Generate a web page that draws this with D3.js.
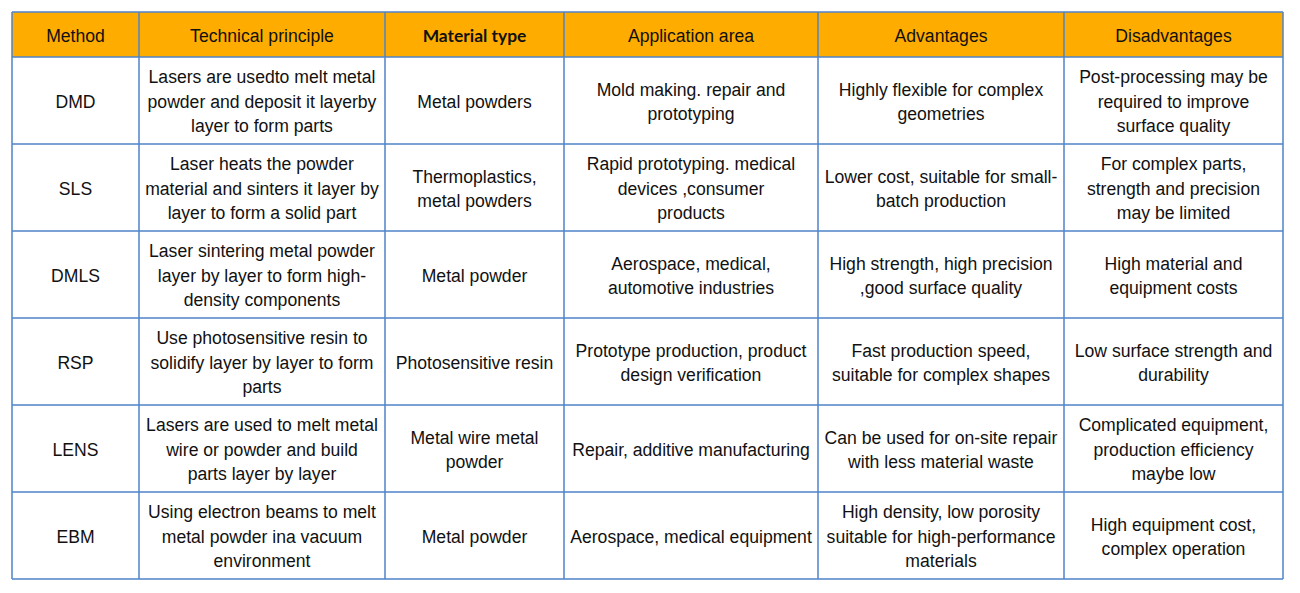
<!DOCTYPE html>
<meta charset="utf-8">
<style>
	body{margin:0;background:#fff;}
	svg{display:block;}
</style>
<svg width="1300" height="593"></svg>
<script src="https://cdn.jsdelivr.net/npm/d3@7"></script>
<script>
	var headers = ["Method","Technical principle","Material type","Application area","Advantages","Disadvantages"];
	var colWidths = [127, 246, 179, 254, 246, 219];

	var methods = ["DMD","SLS","DMLS","RSP","LENS","EBM"];
	var principles = [
		["Lasers are usedto melt metal","powder and deposit it layerby","layer to form parts"],
		["Laser heats the powder","material and sinters it layer by","layer to form a solid part"],
		["Laser sintering metal powder","layer by layer to form high-","density components"],
		["Use photosensitive resin to","solidify layer by layer to form","parts"],
		["Lasers are used to melt metal","wire or powder and build","parts layer by layer"],
		["Using electron beams to melt","metal powder ina vacuum","environment"]
	];
	var materials = [
		["Metal powders"],
		["Thermoplastics,","metal powders"],
		["Metal powder"],
		["Photosensitive resin"],
		["Metal wire metal","powder"],
		["Metal powder"]
	];
	var areas = [
		["Mold making. repair and","prototyping"],
		["Rapid prototyping. medical","devices ,consumer","products"],
		["Aerospace, medical,","automotive industries"],
		["Prototype production, product","design verification"],
		["Repair, additive manufacturing"],
		["Aerospace, medical equipment"]
	];
	var advantages = [
		["Highly flexible for complex","geometries"],
		["Lower cost, suitable for small-","batch production"],
		["High strength, high precision",",good surface quality"],
		["Fast production speed,","suitable for complex shapes"],
		["Can be used for on-site repair","with less material waste"],
		["High density, low porosity","suitable for high-performance","materials"]
	];
	var disadvantages = [
		["Post-processing may be","required to improve","surface quality"],
		["For complex parts,","strength and precision","may be limited"],
		["High material and","equipment costs"],
		["Low surface strength and","durability"],
		["Complicated equipment,","production efficiency","maybe low"],
		["High equipment cost,","complex operation"]
	];

	var svg = d3.select("svg"),
		tLeft = 12, tTop = 12, headH = 45, tBottom = 579;

	var edges = [tLeft];
	colWidths.forEach(function(w){ edges.push(edges[edges.length-1] + w); });

	var x = d3.scaleOrdinal().domain(d3.range(headers.length)).range(edges.slice(0,-1));
	var y = d3.scaleBand().domain(d3.range(methods.length)).range([tTop + headH, tBottom]);

	var rows = methods.map(function(m, i){
		return [[m], principles[i], materials[i], areas[i], advantages[i], disadvantages[i]];
	});

	var lineH = 24.3,
		fontSize = "17.6px";

	// header
	var head = svg.append("g");
	head.selectAll("rect").data(headers).enter().append("rect")
		.attr("x", function(d,i){ return x(i); })
		.attr("y", tTop)
		.attr("width", function(d,i){ return colWidths[i]; })
		.attr("height", headH)
		.attr("fill", "#ffac00");
	head.selectAll("text").data(headers).enter().append("text")
		.attr("x", function(d,i){ return x(i) + colWidths[i]/2; })
		.attr("y", tTop + headH/2 + 1)
		.attr("dy", "0.35em")
		.attr("text-anchor", "middle")
		.style("font-family", function(d,i){ return i == 2 ? "Lato" : "'Liberation Sans', Arial, sans-serif"; })
		.style("font-weight", function(d,i){ return i == 2 ? "bold" : "normal"; })
		.style("font-size", function(d,i){ return i == 2 ? "17.4px" : fontSize; })
		.attr("fill", "#111")
		.text(function(d){ return d; });

	// body
	var body = svg.append("g");
	rows.forEach(function(row, r){
		row.forEach(function(lines, c){
			var cx = x(c) + colWidths[c]/2,
				cy = y(r) + y.bandwidth()/2 + 1,
				y0 = cy - (lines.length - 1) * lineH / 2;
			body.append("text")
				.attr("text-anchor", "middle")
				.style("font-family", "'Liberation Sans', Arial, sans-serif")
				.style("font-size", fontSize)
				.attr("fill", "#111")
				.selectAll("tspan").data(lines).enter().append("tspan")
				.attr("x", cx)
				.attr("y", function(d,k){ return y0 + k * lineH; })
				.attr("dy", "0.35em")
				.text(function(d){ return d; });
		});
	});

	// grid lines
	var grid = svg.append("g").attr("stroke", "#4f83c9").attr("stroke-width", 1.5).attr("fill","none");
	grid.selectAll("line.v").data(edges).enter().append("line")
		.attr("x1", function(d){ return d; }).attr("x2", function(d){ return d; })
		.attr("y1", tTop).attr("y2", tBottom);
	var hs = [tTop, tTop + headH].concat(d3.range(1, methods.length + 1).map(function(i){ return i < methods.length ? y(i) : tBottom; }));
	grid.selectAll("line.h").data(hs).enter().append("line")
		.attr("x1", tLeft).attr("x2", edges[edges.length-1])
		.attr("y1", function(d){ return d; }).attr("y2", function(d){ return d; });
</script>
